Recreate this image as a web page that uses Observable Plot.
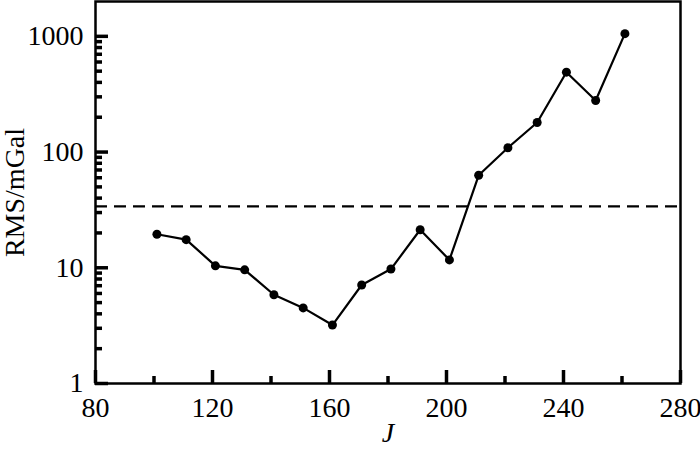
<!DOCTYPE html>
<html><head><meta charset="utf-8">
<script src="https://cdn.jsdelivr.net/npm/d3@7"></script>
<script src="https://cdn.jsdelivr.net/npm/@observablehq/plot@0.6"></script>
<style>html,body{margin:0;padding:0;background:#fff}</style>
</head><body><div id="chart"></div>
<script>
const J = [101, 111, 121, 131, 141, 151, 161, 171, 181, 191, 201, 211, 221, 231, 241, 251, 261];
const rms = [19.5, 17.5, 10.4, 9.6, 5.85, 4.5, 3.2, 7.1, 9.75, 21.3, 11.7, 63, 109, 180, 490, 279, 1055];
const threshold = [34];
const xTicksMajor = [80, 120, 160, 200, 240, 280];
const xTicksMinor = [100, 140, 180, 220, 260];
const yTicksMajor = [1, 10, 100, 1000];
const yTicksMinor = [2,3,4,5,6,7,8,9,20,30,40,50,60,70,80,90,200,300,400,500,600,700,800,900];
const xLabel = "J";
const yLabel = "RMS/mGal";

const data = J.map((j, i) => ({J: j, rms: rms[i]}));

const W = 700, H = 453, mL = 95, mR = 20, mT = 1, mB = 70;
const innerW = W - mL - mR, innerH = H - mT - mB;
const majorLen = 13, minorLen = 7;

const chart = Plot.plot({
  width: W,
  height: H,
  marginLeft: mL,
  marginRight: mR,
  marginTop: mT,
  marginBottom: mB,
  style: {fontFamily: "'Liberation Serif', 'Times New Roman', serif", fontSize: "28px", color: "black", background: "white"},
  x: {domain: [80, 280], axis: null},
  y: {type: "log", domain: [1, 2000], axis: null},
  marks: [
    Plot.ruleY(threshold, {stroke: "black", strokeWidth: 2.2, strokeDasharray: "12,7"}),
    Plot.line(data, {x: "J", y: "rms", stroke: "black", strokeWidth: 2.2}),
    Plot.dot(data, {x: "J", y: "rms", r: 4.5, fill: "black", stroke: "none"}),
    // inward ticks
    Plot.ruleX(xTicksMajor, {x: d => d, insetTop: innerH - majorLen, stroke: "black", strokeWidth: 3.5}),
    Plot.ruleX(xTicksMinor, {x: d => d, insetTop: innerH - minorLen, stroke: "black", strokeWidth: 3.5}),
    Plot.ruleY(yTicksMajor, {y: d => d, insetRight: innerW - majorLen, stroke: "black", strokeWidth: 3.5}),
    Plot.ruleY(yTicksMinor, {y: d => d, insetRight: innerW - minorLen, stroke: "black", strokeWidth: 3.5}),
    Plot.axisX(xTicksMajor, {tickSize: 0, tickPadding: 14, label: null, tickFormat: d => String(d)}),
    Plot.axisY(yTicksMajor, {tickSize: 0, tickPadding: 12, label: null, tickFormat: d => String(d)}),
    Plot.text([yLabel], {frameAnchor: "left", textAnchor: "middle", dx: -80, rotate: -90, fontSize: 28}),
    Plot.text([xLabel], {frameAnchor: "bottom", dy: 58, fontStyle: "italic", fontSize: 28}),
    Plot.frame({stroke: "black", strokeWidth: 2.5})
  ]
});
document.getElementById("chart").appendChild(chart);
</script>
</body></html>
